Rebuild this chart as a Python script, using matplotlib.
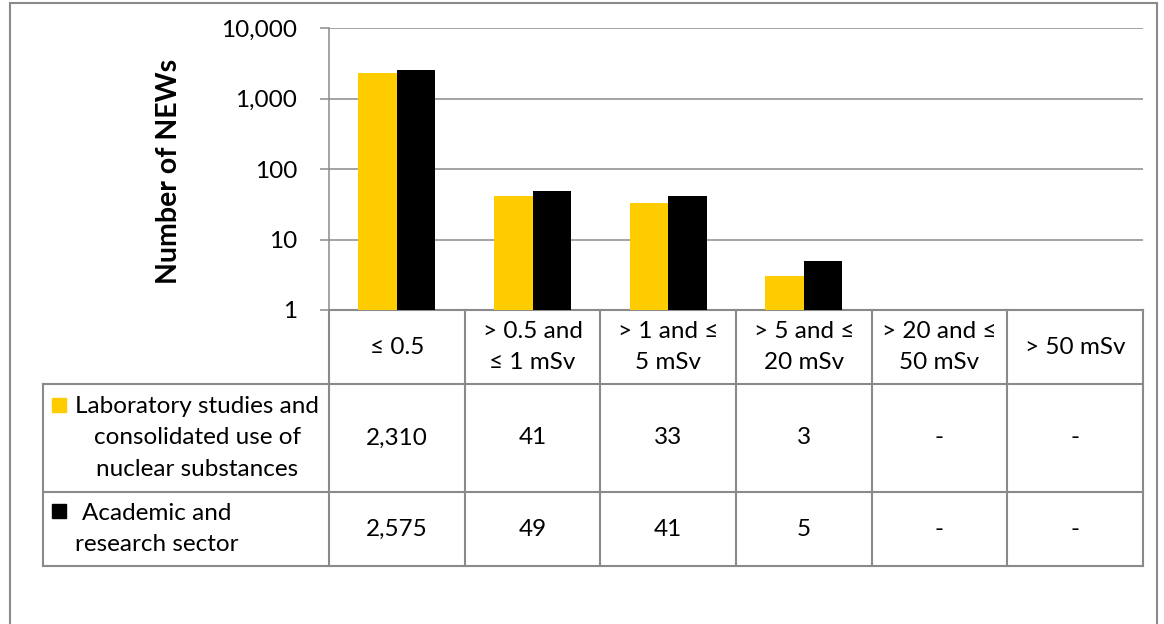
import numpy as np
import matplotlib
matplotlib.use("Agg")
import matplotlib.pyplot as plt
from matplotlib.patches import Rectangle
from matplotlib.ticker import FuncFormatter

# ===============================
# Data
# ===============================
categories = ["≤ 0.5", "> 0.5 and\n≤ 1 mSv", "> 1 and ≤\n5 mSv",
              "> 5 and ≤\n20 mSv", "> 20 and ≤\n50 mSv", "> 50 mSv"]
series_names = ["Laboratory studies and\nconsolidated use of\nnuclear substances",
                "Academic and\nresearch sector"]
lab_values = [2310, 41, 33, 3, None, None]
acad_values = [2575, 49, 41, 5, None, None]
y_ticks = [1, 10, 100, 1000, 10000]

yellow = "#FFCC00"
black = "#000000"
grey = "#8A8A8A"

plt.rcParams["font.family"] = ["Lato", "DejaVu Sans"]
plt.rcParams["font.size"] = 17.5

W, H = 1164, 624
fig = plt.figure(figsize=(W / 100, H / 100), dpi=100)

# plot area in pixels
left, right, top, bottom = 329, 1143, 28, 310
ax = fig.add_axes([left / W, 1 - bottom / H, (right - left) / W, (bottom - top) / H])

# ===============================
# Bars
# ===============================
x = np.arange(len(categories))
bw = 0.285
for vals, off, col in [(lab_values, -bw / 2, yellow), (acad_values, bw / 2, black)]:
    xs = [xi + off for xi, v in zip(x, vals) if v is not None]
    hs = [v for v in vals if v is not None]
    ax.bar(xs, hs, width=bw, color=col, zorder=3)

ax.set_yscale("log")
ax.set_ylim(1, 10000)
ax.set_xlim(-0.5, len(categories) - 0.5)
ax.set_yticks(y_ticks)
ax.yaxis.set_major_formatter(FuncFormatter(lambda v, p: f"{v:,.0f}"))
ax.yaxis.set_minor_locator(plt.NullLocator())
ax.set_xticks([])
ax.grid(axis="y", color=grey, linewidth=1.1, zorder=0)
ax.tick_params(axis="y", length=6.5, width=1.1, color=grey, pad=16.5)
for s in ["top", "right"]:
    ax.spines[s].set_visible(False)
for s in ["left", "bottom"]:
    ax.spines[s].set_color(grey)
    ax.spines[s].set_linewidth(1.1)

ax.set_ylabel("Number of NEWs", fontweight="bold", fontsize=20.5, va="center")
ax.yaxis.set_label_coords((169 - left) / (right - left), 0.49)

# ===============================
# Data table under the chart
# ===============================
tr = ax.get_xaxis_transform()
px = 1.0 / (bottom - top)          # one pixel in axes fraction
col_w = (right - left) / len(categories)
def dx(p):                          # pixel x -> data x
    return -0.5 + (p - left) / col_w

y_head = -(384 - bottom) * px
y_row1 = -(492 - bottom) * px
y_row2 = -(566 - bottom) * px
x_tab = dx(43)
x_end = len(categories) - 0.5
ls = 1.62

line_kw = dict(color=grey, linewidth=1.5, transform=tr, clip_on=False)
ax.plot([-0.5, x_end], [0, 0], **line_kw)
for yy in [y_head, y_row1, y_row2]:
    ax.plot([x_tab, x_end], [yy, yy], **line_kw)
for b in np.arange(-0.5, len(categories), 1.0):
    ax.plot([b, b], [0, y_row2], **line_kw)
ax.plot([x_tab, x_tab], [y_head, y_row2], **line_kw)

for xi, cat in zip(x, categories):
    ax.text(xi, y_head / 2, cat, transform=tr, ha="center", va="center",
            linespacing=ls, clip_on=False)

row_mid = [(y_head + y_row1) / 2, (y_row1 + y_row2) / 2]
for vals, ym in zip([lab_values, acad_values], row_mid):
    for xi, v in zip(x, vals):
        txt = f"{v:,}" if v is not None else "-"
        ax.text(xi, ym, txt, transform=tr, ha="center", va="center", clip_on=False)

# row labels with legend keys
ax.text(dx(197), row_mid[0], series_names[0], transform=tr, ha="center",
        va="center", linespacing=ls, clip_on=False)
ax.text(dx(157), row_mid[1], series_names[1], transform=tr, ha="center",
        va="center", linespacing=ls, clip_on=False)
for col, ytop in [(yellow, 398), (black, 504)]:
    ax.add_patch(Rectangle((dx(52), -(ytop + 14 - bottom) * px), dx(66) - dx(52), 14 * px,
                           transform=tr, color=col, clip_on=False))

# outer chart border
fig.add_artist(Rectangle((10 / W, -0.01), (1157 - 10) / W, 1.01 - 3 / H,
                         transform=fig.transFigure, fill=False,
                         edgecolor=grey, linewidth=1.5))

plt.savefig("out.png", dpi=100)
